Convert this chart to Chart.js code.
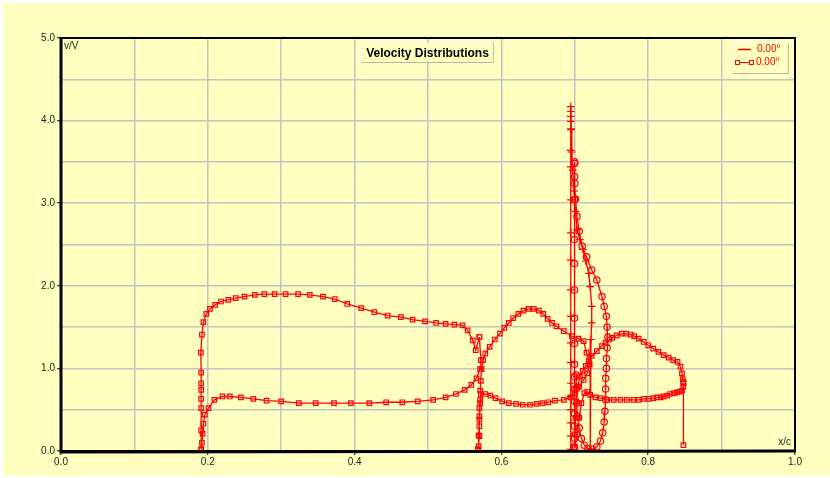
<!DOCTYPE html>
<html><head><meta charset="utf-8">
<script src="https://cdn.jsdelivr.net/npm/chart.js@4"></script>
<style>html,body{margin:0;padding:0;background:#fff;}canvas{display:block;}</style>
</head><body>
<canvas id="c" width="830" height="478"></canvas>
<script>
// ---- data (x/c, v/V) ----
const chartTitle = 'Velocity Distributions';
const legendLabels = ['0.00°', '0.00°'];
const xTickLabels = ['0.0', '0.2', '0.4', '0.6', '0.8', '1.0'];
const yTickLabels = ['0.0', '1.0', '2.0', '3.0', '4.0', '5.0'];

const mainUpper = [[0.191,0.02],[0.191,0.25],[0.191,0.52],[0.191,0.63],[0.191,0.74],[0.191,0.82],[0.191,0.95],[0.1905,1.19],[0.192,1.41],[0.194,1.56],[0.198,1.66],[0.203,1.72],[0.210,1.77],[0.218,1.81],[0.228,1.83],[0.238,1.85],[0.250,1.87],[0.264,1.89],[0.277,1.90],[0.291,1.90],[0.306,1.90],[0.323,1.90],[0.339,1.89],[0.357,1.87],[0.373,1.84],[0.390,1.78],[0.409,1.73],[0.427,1.68],[0.445,1.64],[0.463,1.62],[0.479,1.59],[0.496,1.57],[0.511,1.55],[0.524,1.54],[0.536,1.53],[0.547,1.52],[0.554,1.46],[0.561,1.34],[0.565,1.22],[0.570,1.38]];
const mainLower = [[0.191,0.02],[0.192,0.10],[0.193,0.21],[0.194,0.33],[0.196,0.44],[0.201,0.52],[0.209,0.62],[0.220,0.66],[0.230,0.66],[0.245,0.65],[0.262,0.63],[0.280,0.61],[0.300,0.60],[0.324,0.58],[0.347,0.58],[0.372,0.58],[0.395,0.58],[0.420,0.58],[0.443,0.59],[0.465,0.59],[0.486,0.60],[0.507,0.62],[0.524,0.65],[0.538,0.69],[0.550,0.74],[0.559,0.80],[0.566,0.88],[0.571,0.99],[0.572,1.10],[0.570,1.38]];
const flapUpper = [[0.568,0.02],[0.569,0.06],[0.569,0.19],[0.570,0.30],[0.570,0.42],[0.570,0.52],[0.571,0.62],[0.571,0.73],[0.572,0.85],[0.573,0.99],[0.575,1.10],[0.578,1.18],[0.584,1.26],[0.591,1.35],[0.598,1.42],[0.604,1.49],[0.610,1.55],[0.616,1.61],[0.623,1.66],[0.630,1.70],[0.637,1.72],[0.644,1.72],[0.651,1.70],[0.657,1.66],[0.663,1.60],[0.669,1.55],[0.675,1.51],[0.685,1.45],[0.696,1.39],[0.705,1.36],[0.712,1.33],[0.716,1.19],[0.720,1.05]];
const flapLower = [[0.568,0.02],[0.570,0.18],[0.570,0.38],[0.571,0.58],[0.572,0.69],[0.578,0.69],[0.585,0.67],[0.592,0.64],[0.601,0.60],[0.610,0.58],[0.620,0.57],[0.629,0.56],[0.639,0.56],[0.648,0.57],[0.656,0.58],[0.664,0.59],[0.673,0.61],[0.685,0.62],[0.694,0.65],[0.700,0.70],[0.706,0.78],[0.712,0.86],[0.717,0.94],[0.720,1.05]];
const vaneCross = [[0.6945,0.02],[0.6945,0.18],[0.6945,0.34],[0.6945,0.50],[0.6945,0.66],[0.6945,0.82],[0.6945,1.07],[0.6945,1.31],[0.6945,1.63],[0.6945,1.95],[0.6945,2.31],[0.6945,2.64],[0.6945,3.04],[0.6945,3.44],[0.6945,3.64],[0.6945,3.89],[0.6945,3.99],[0.6945,4.05],[0.6945,4.11],[0.6945,4.17],[0.695,3.90],[0.696,3.62],[0.697,3.40],[0.699,3.15],[0.701,2.90],[0.703,2.68],[0.707,2.56],[0.711,2.44],[0.715,2.30],[0.719,2.15],[0.721,1.99],[0.723,1.75],[0.723,1.55],[0.722,1.35],[0.721,1.15],[0.721,0.02]];
const vaneCircle = [[0.6996,0.05],[0.6996,0.15],[0.6996,0.30],[0.6996,0.45],[0.6996,0.60],[0.6996,0.75],[0.6996,0.90],[0.6996,1.05],[0.6996,1.30],[0.6996,1.61],[0.6996,1.95],[0.6996,2.27],[0.6996,2.56],[0.6996,3.04],[0.6996,3.32],[0.6996,3.50],[0.700,3.48],[0.700,3.24],[0.701,3.05],[0.703,2.84],[0.706,2.66],[0.710,2.48],[0.716,2.35],[0.723,2.19],[0.730,2.07],[0.737,1.87],[0.740,1.75],[0.743,1.63],[0.744,1.50],[0.745,1.38],[0.744,1.25],[0.743,1.12],[0.743,1.00],[0.742,0.88],[0.742,0.75],[0.742,0.62],[0.741,0.48],[0.740,0.35],[0.738,0.22],[0.735,0.12],[0.730,0.05],[0.724,0.02],[0.718,0.03],[0.713,0.07],[0.709,0.15],[0.706,0.28],[0.704,0.42],[0.703,0.58],[0.702,0.75],[0.702,0.92]];
const tabUpper = [[0.700,0.04],[0.700,0.20],[0.701,0.40],[0.702,0.60],[0.704,0.78],[0.707,0.90],[0.711,0.97],[0.715,1.03],[0.719,1.09],[0.723,1.15],[0.730,1.21],[0.737,1.27],[0.742,1.31],[0.747,1.35],[0.751,1.37],[0.757,1.40],[0.764,1.42],[0.770,1.42],[0.776,1.41],[0.781,1.39],[0.787,1.36],[0.794,1.32],[0.800,1.28],[0.807,1.24],[0.814,1.20],[0.821,1.16],[0.828,1.13],[0.834,1.10],[0.840,1.08],[0.844,1.02],[0.846,0.94],[0.847,0.87],[0.848,0.84]];
const tabLower = [[0.700,0.04],[0.703,0.20],[0.706,0.40],[0.709,0.58],[0.713,0.70],[0.717,0.72],[0.721,0.68],[0.728,0.65],[0.735,0.64],[0.744,0.62],[0.753,0.62],[0.762,0.62],[0.771,0.62],[0.780,0.62],[0.787,0.62],[0.794,0.63],[0.801,0.63],[0.807,0.64],[0.812,0.65],[0.817,0.65],[0.821,0.66],[0.826,0.67],[0.830,0.69],[0.835,0.70],[0.839,0.71],[0.843,0.72],[0.846,0.73],[0.848,0.78],[0.848,0.82],[0.848,0.07]];

// ---- styles ----
const RED = '#ff0000';
const BG = '#ffffc0';
const FONT = '"Liberation Sans", Arial, sans-serif';

function toPts(a){ return a.map(p => ({x:p[0], y:p[1]})); }
function series(label, arr, style){
  return {label, data: toPts(arr), showLine: true, borderColor: RED, borderWidth: 1.3,
    pointStyle: style, pointRadius: style === 'cross' ? 3.8 : 3.2, pointHoverRadius: 3,
    pointBorderColor: RED, pointBorderWidth: 1.2, pointBackgroundColor: 'rgba(0,0,0,0)', tension: 0};
}

const decor = {
  id: 'decor',
  beforeDraw(chart){
    const c = chart.ctx;
    c.save();
    c.fillStyle = '#ffffff'; c.fillRect(0,0,chart.width,chart.height);
    c.fillStyle = BG; c.fillRect(3,3,chart.width-3,chart.height-5);
    c.restore();
  },
  afterDraw(chart){
    const c = chart.ctx, a = chart.chartArea;
    c.save();
    // frame
    c.strokeStyle = '#000'; c.lineWidth = 2;
    c.strokeRect(a.left, a.top, a.right-a.left, a.bottom-a.top);
    c.lineWidth = 3;
    c.beginPath(); c.moveTo(a.left, a.top-1); c.lineTo(a.left, a.bottom+1); c.lineTo(a.right+1, a.bottom); c.stroke();
    // axis names
    c.fillStyle = '#222'; c.font = '10px ' + FONT; c.textBaseline = 'middle'; c.textAlign = 'left';
    c.fillText('v/V', a.left+3, a.top+8);
    c.textAlign = 'right';
    c.fillText('x/c', a.right-4, a.bottom-9);
    // title box
    const tx = 427.5, ty = 52.5;
    c.font = 'bold 12px ' + FONT;
    const tw = c.measureText(chartTitle).width;
    const bx = tx - tw/2 - 5, by = 43, bw = tw + 10, bh = 20;
    c.fillStyle = BG; c.fillRect(bx, by, bw, bh);
    c.lineWidth = 1;
    c.strokeStyle = '#f4f4f0';
    c.beginPath(); c.moveTo(bx+0.5, by+bh); c.lineTo(bx+0.5, by+0.5); c.lineTo(bx+bw, by+0.5); c.stroke();
    c.strokeStyle = '#b8b8a8';
    c.beginPath(); c.moveTo(bx+bw-0.5, by); c.lineTo(bx+bw-0.5, by+bh-0.5); c.lineTo(bx, by+bh-0.5); c.stroke();
    c.fillStyle = '#000'; c.textAlign = 'center'; c.textBaseline = 'middle';
    c.fillText(chartTitle, tx, ty+1);
    // legend box
    const lx = 732, ly = 43, lw = 57, lh = 31;
    c.fillStyle = BG; c.fillRect(lx, ly, lw, lh);
    c.strokeStyle = '#f4f4f0';
    c.beginPath(); c.moveTo(lx+0.5, ly+lh); c.lineTo(lx+0.5, ly+0.5); c.lineTo(lx+lw, ly+0.5); c.stroke();
    c.strokeStyle = '#b8b8a8';
    c.beginPath(); c.moveTo(lx+lw-0.5, ly); c.lineTo(lx+lw-0.5, ly+lh-0.5); c.lineTo(lx, ly+lh-0.5); c.stroke();
    c.strokeStyle = RED; c.fillStyle = RED; c.lineWidth = 1.5;
    c.beginPath(); c.moveTo(738, 49.5); c.lineTo(751, 49.5); c.stroke();
    c.lineWidth = 1;
    c.beginPath(); c.moveTo(738, 62.5); c.lineTo(751, 62.5); c.stroke();
    c.fillStyle = BG;
    c.fillRect(735.5, 60.5, 4, 4); c.strokeRect(735.5, 60.5, 4, 4);
    c.fillRect(749.5, 60.5, 4, 4); c.strokeRect(749.5, 60.5, 4, 4);
    c.fillStyle = RED; c.font = '10px ' + FONT; c.textAlign = 'left'; c.textBaseline = 'middle';
    c.fillText(legendLabels[0], 757, 49.5);
    c.fillText(legendLabels[1], 756, 62.5);
    c.restore();
  }
};

const isMajorX = v => Math.round(v*10) % 2 === 0;
const isMajorY = v => Math.abs(v - Math.round(v)) < 1e-6;

new Chart(document.getElementById('c'), {
  type: 'scatter',
  data: { datasets: [
    series(legendLabels[1], mainUpper, 'rect'),
    series(legendLabels[1], mainLower, 'rect'),
    series(legendLabels[1], flapUpper, 'rect'),
    series(legendLabels[1], flapLower, 'rect'),
    series(legendLabels[0], vaneCross, 'cross'),
    series(legendLabels[0], vaneCircle, 'circle'),
    series(legendLabels[1], tabUpper, 'rect'),
    series(legendLabels[1], tabLower, 'rect')
  ]},
  options: {
    responsive: false, animation: false, devicePixelRatio: 1,
    layout: { padding: { top: 38, right: 35, left: 0, bottom: 0 } },
    plugins: { legend: { display: false }, tooltip: { enabled: false }, title: { display: false } },
    scales: {
      x: {
        type: 'linear', min: 0, max: 1,
        afterFit(s){ s.height = 27; },
        border: { display: false },
        grid: { color: '#c4c4c4', lineWidth: 1.5, drawTicks: true, tickLength: 4, tickWidth: 1,
          tickColor: ctx => (ctx.tick && isMajorX(ctx.tick.value)) ? '#000' : 'rgba(0,0,0,0)' },
        ticks: { stepSize: 0.1, autoSkip: false, maxRotation: 0, padding: 1, color: '#222',
          font: { size: 10, family: FONT },
          callback: v => isMajorX(v) ? xTickLabels[Math.round(v*5)] : '' }
      },
      y: {
        type: 'linear', min: 0, max: 5,
        afterFit(s){ s.width = 61; },
        border: { display: false },
        grid: { color: '#c4c4c4', lineWidth: 1.5, drawTicks: true, tickLength: 4, tickWidth: 1,
          tickColor: ctx => (ctx.tick && isMajorY(ctx.tick.value)) ? '#000' : 'rgba(0,0,0,0)' },
        ticks: { stepSize: 0.5, autoSkip: false, padding: 2, color: '#222',
          font: { size: 10, family: FONT },
          callback: v => isMajorY(v) ? yTickLabels[Math.round(v)] : '' }
      }
    }
  },
  plugins: [decor]
});
</script>
</body></html>
